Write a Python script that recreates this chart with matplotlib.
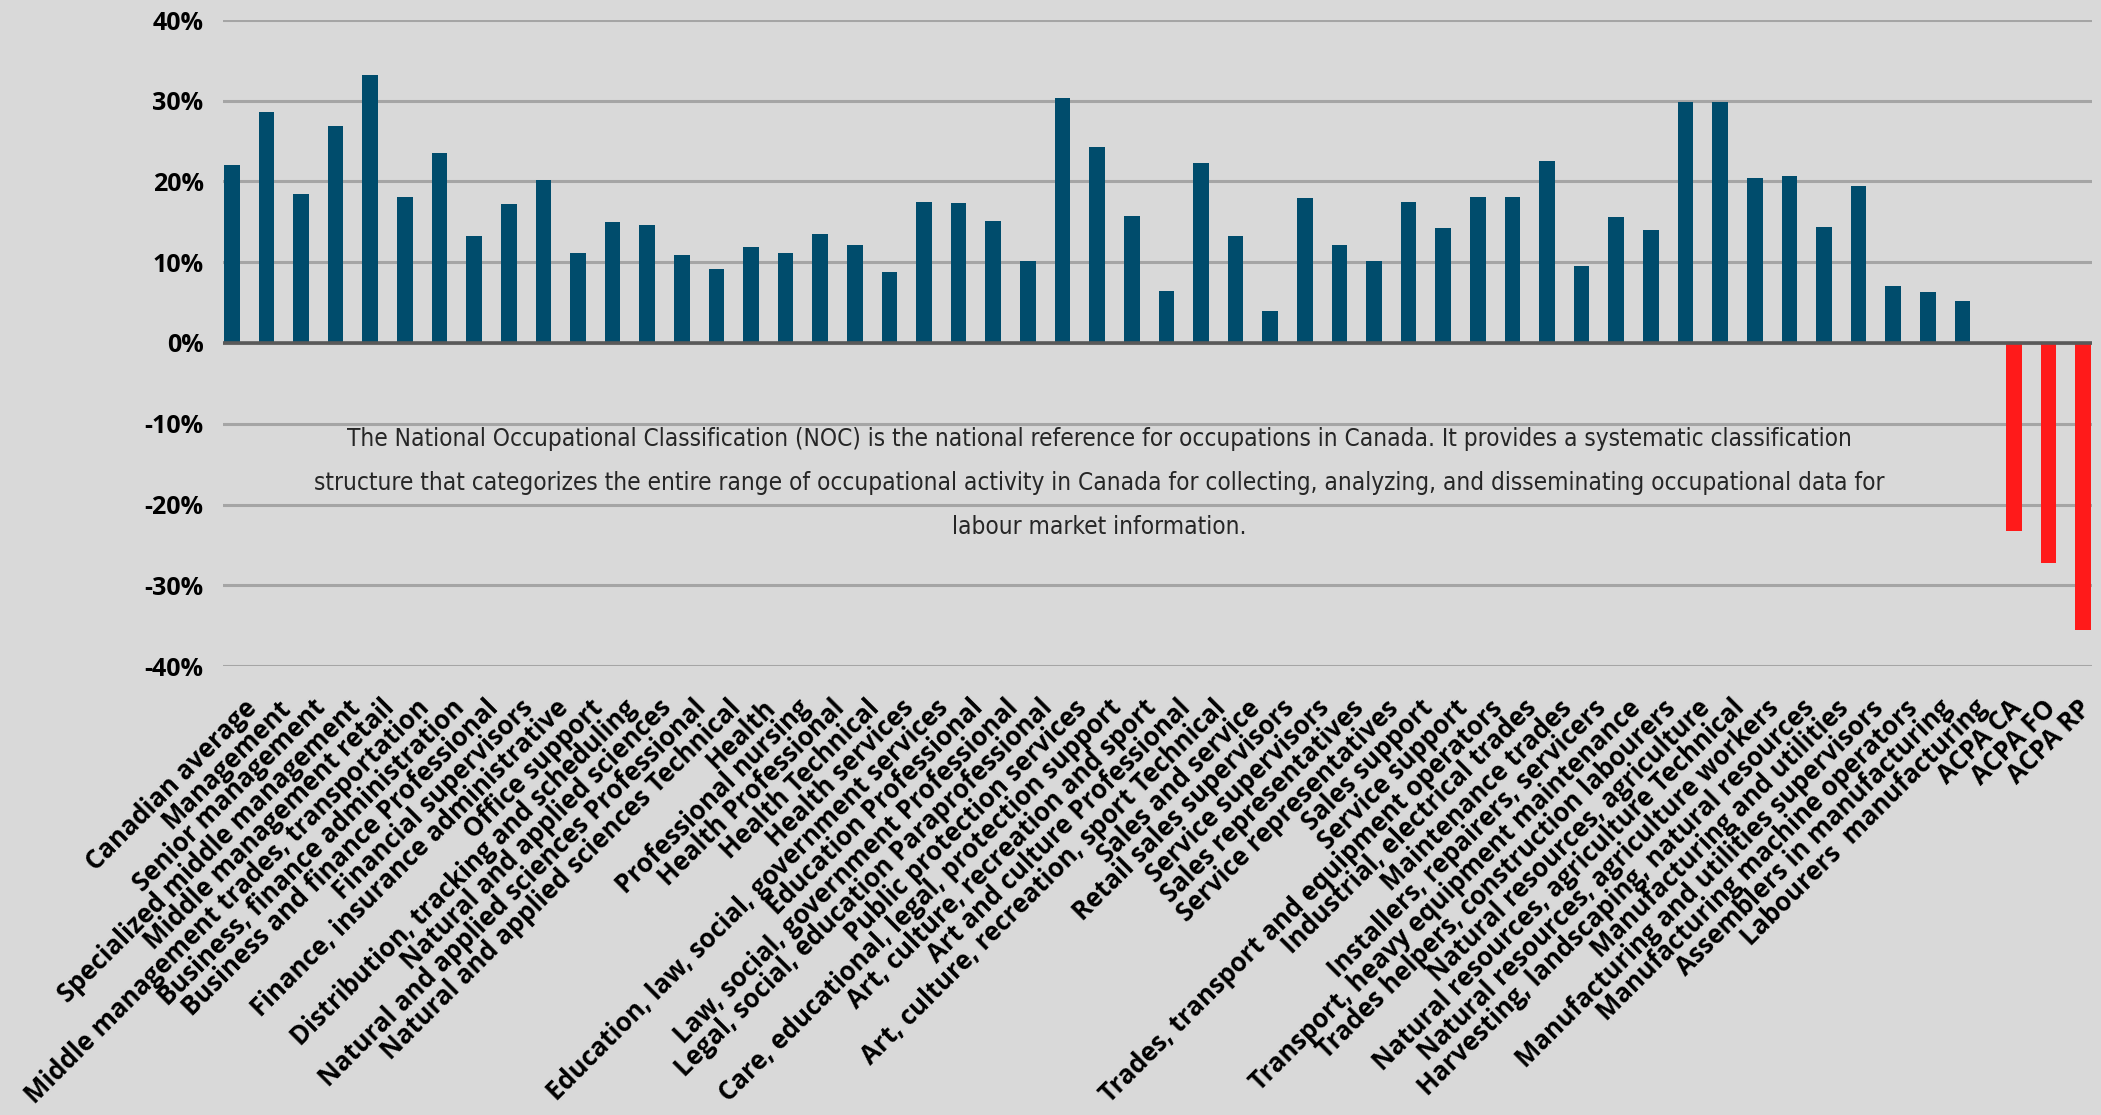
import matplotlib
matplotlib.use("Agg")
import matplotlib.pyplot as plt
import matplotlib.transforms as mtransforms
from matplotlib import font_manager as fm
import numpy as np

# Data (percent)
categories = [
    "Canadian average", "Management", "Senior management",
    "Specialized middle management", "Middle management retail",
    "Middle management trades, transportation", "Business, finance administration",
    "Business and finance Professional", "Financial supervisors",
    "Finance, insurance administrative", "Office support",
    "Distribution, tracking and scheduling", "Natural and applied sciences",
    "Natural and applied sciences Professional", "Natural and applied sciences Technical",
    "Health", "Professional nursing", "Health Professional", "Health Technical",
    "Health services", "Education, law, social, government services",
    "Education Professional", "Law, social, government Professional",
    "Legal, social, education Paraprofessional", "Public protection services",
    "Care, educational, legal, protection support", "Art, culture, recreation and sport",
    "Art and culture Professional", "Art, culture, recreation, sport Technical",
    "Sales and service", "Retail sales supervisors", "Service supervisors",
    "Sales representatives", "Service representatives", "Sales support",
    "Service support", "Trades, transport and equipment operators",
    "Industrial, electrical trades", "Maintenance trades",
    "Installers, repairers, servicers", "Transport, heavy equipment maintenance",
    "Trades helpers, construction labourers", "Natural resources, agriculture",
    "Natural resources, agriculture Technical", "Natural resources, agriculture workers",
    "Harvesting, landscaping, natural resources", "Manufacturing and utilities",
    "Manufacturing and utilities supervisors", "Manufacturing machine operators",
    "Assemblers in manufacturing", "Labourers  manufacturing",
    "ACPA CA", "ACPA FO", "ACPA RP",
]
noc_values = [
    22.0, 28.6, 18.5, 26.9, 33.2, 18.1, 23.5, 13.2, 17.2, 20.2,
    11.2, 15.0, 14.6, 10.9, 9.2, 11.9, 11.1, 13.5, 12.1, 8.8,
    17.4, 17.3, 15.1, 10.2, 30.3, 24.3, 15.7, 6.5, 22.3, 13.3,
    4.0, 17.9, 12.1, 10.1, 17.4, 14.3, 18.1, 18.1, 22.5, 9.5,
    15.6, 14.0, 29.9, 29.9, 20.4, 20.7, 14.4, 19.5, 7.0, 6.3,
    5.2,
]
acpa_values = [-23.3, -27.3, -35.5]
y_ticks = [-40, -30, -20, -10, 0, 10, 20, 30, 40]

note = ("The National Occupational Classification (NOC) is the national reference for occupations in Canada. It provides a systematic classification\n"
        "structure that categorizes the entire range of occupational activity in Canada for collecting, analyzing, and disseminating occupational data for\n"
        "labour market information.")

BG = "#D9D9D9"
BLUE = "#004C6C"
RED = "#FF1A1A"


def find_condensed():
    # look for any condensed/narrow regular face among installed fonts
    for f in fm.fontManager.ttflist:
        st = str(f.stretch).lower()
        if ("condensed" in st or "narrow" in f.name.lower() or "condensed" in f.name.lower()
                or st in ("75", "62.5", "87.5", "semi-condensed")) and f.weight in (400, "normal", "regular") \
                and f.style == "normal":
            return f
    return None


cond = find_condensed()
if cond is not None:
    note_font = fm.FontProperties(fname=cond.fname, size=17.5)
else:
    note_font = fm.FontProperties(family="Roboto", size=15.5)

plt.rcParams["font.family"] = ["Open Sans", "DejaVu Sans"]

fig = plt.figure(figsize=(21.01, 11.15), dpi=100, facecolor=BG)
ax = fig.add_axes([223 / 2101, 1 - 666 / 1115, (2092 - 223) / 2101, (666 - 20) / 1115])
ax.set_facecolor(BG)

n = len(categories)
x = np.arange(n)
w = 0.45
blue_x = x[:len(noc_values)]
red_x = x[len(noc_values):]
ax.bar(blue_x - w / 2 - 0.02, noc_values, width=w, color=BLUE, zorder=3)
ax.bar(red_x + w / 2 + 0.02, acpa_values, width=w, color=RED, zorder=3)

ax.set_xlim(-0.5, n - 0.5)
ax.set_ylim(-40, 40)
ax.set_yticks(y_ticks)
ax.set_yticklabels([f"{v}%" for v in y_ticks], fontsize=18, fontweight="bold")
ax.yaxis.grid(True, color="#A5A5A5", linewidth=2.2, zorder=0)
ax.axhline(0, color="#595959", linewidth=2.6, zorder=4)
for s in ax.spines.values():
    s.set_visible(False)
ax.tick_params(axis="both", length=0)
ax.tick_params(axis="y", pad=14)
ax.tick_params(axis="x", pad=0)

ax.set_xticks(x)
ax.set_xticklabels(categories, rotation=45, ha="right", va="center",
                   rotation_mode="anchor", fontsize=18.5, fontweight="bold")
# shift labels a bit right and down, like the original
offset = mtransforms.ScaledTranslation(12 / 100, -38 / 100, fig.dpi_scale_trans)
for lab in ax.get_xticklabels():
    lab.set_transform(lab.get_transform() + offset)

ax.text(0.469, 0.283, note, transform=ax.transAxes, ha="center", va="center",
        fontproperties=note_font, color="#262626", linespacing=2.05, zorder=5)

fig.savefig("out.png", dpi=100, facecolor=BG)
